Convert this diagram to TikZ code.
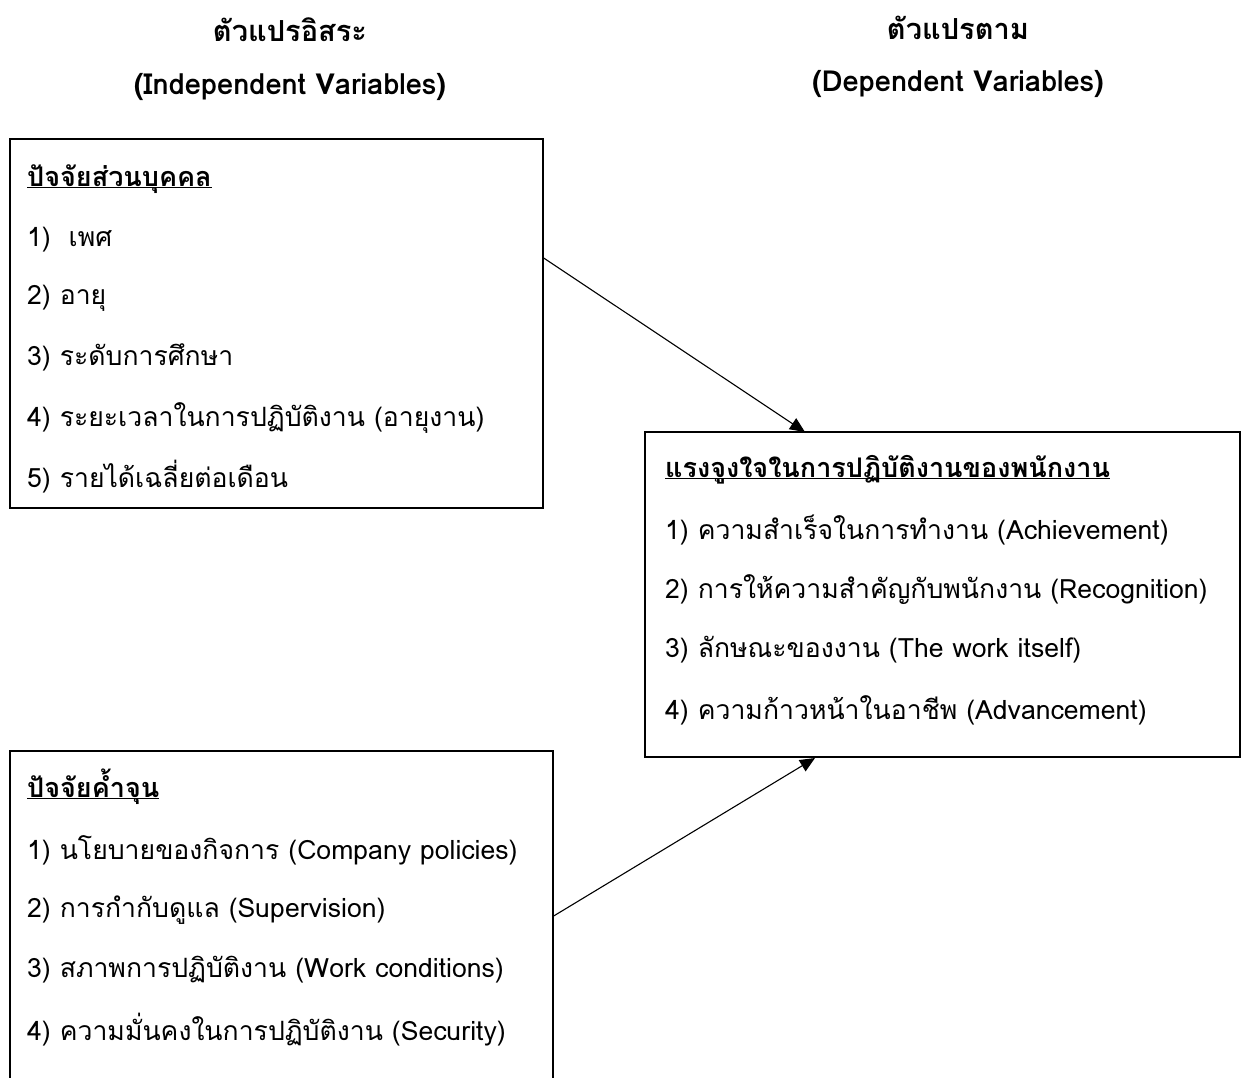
\documentclass[tikz,border=0pt]{standalone}
\usepackage{fontspec}
\setmainfont[Script=Thai]{Loma}
\usetikzlibrary{arrows.meta}
\newcommand\thul[1]{\underline{\smash{#1}}}
\begin{document}
\begin{tikzpicture}[x=1pt,y=-1pt,
  box/.style={draw=black, line width=1.3pt, rectangle, inner sep=0pt},
  txt/.style={anchor=west, inner sep=0pt, font=\fontsize{26.6}{30}\selectfont},
  ttl/.style={txt, font=\fontsize{27}{30}\selectfont\bfseries},
  hdr/.style={anchor=center, inner sep=0pt, font=\fontsize{29}{32}\selectfont\bfseries},
  arr/.style={line width=1.1pt, -{Triangle[length=15pt,width=13pt]}}]
\useasboundingbox (0,0) rectangle (1243,1077);
\clip (0,0) rectangle (1243,1077);
\fill[white] (0,0) rectangle (1243,1077);
% headers
\node[hdr] (h1) at (290,30) {ตัวแปรอิสระ};
\node[hdr] (h2) at (290,87) {(Independent Variables)};
\node[hdr] (h3) at (958,28) {ตัวแปรตาม};
\node[hdr] (h4) at (958,84) {(Dependent Variables)};
% boxes
\node[box, minimum width=533pt, minimum height=369pt] (b1) at (276.5,323.5) {};
\node[box, minimum width=595pt, minimum height=325pt] (b2) at (942.5,594.5) {};
\node[box, minimum width=543pt, minimum height=350pt] (b3) at (281.5,926) {};
% box 1 text
\node[ttl] (t1) at (27,187) {\thul{ปัจจัยส่วนบุคคล}};
\node[txt] (t1a) at (27,240) {1)\ \ เพศ};
\node[txt] (t1b) at (27,298) {2) อายุ};
\node[txt] (t1c) at (27,357) {3) ระดับการศึกษา};
\node[txt] (t1d) at (27,418) {4) ระยะเวลาในการปฏิบัติงาน (อายุงาน)};
\node[txt] (t1e) at (27,477) {5) รายได้เฉลี่ยต่อเดือน};
% box 2 text
\node[ttl] (t2) at (665,478) {\thul{แรงจูงใจในการปฏิบัติงานของพนักงาน}};
\node[txt] (t2a) at (665,530) {1) ความสำเร็จในการทำงาน (Achievement)};
\node[txt] (t2b) at (665,590) {2) การให้ความสำคัญกับพนักงาน (Recognition)};
\node[txt] (t2c) at (665,650) {3) ลักษณะของงาน (The work itself)};
\node[txt] (t2d) at (665,710) {4) ความก้าวหน้าในอาชีพ (Advancement)};
% box 3 text
\node[ttl] (t3) at (27,798) {\thul{ปัจจัยค้ำจุน}};
\node[txt] (t3a) at (27,850) {1) นโยบายของกิจการ (Company policies)};
\node[txt] (t3b) at (27,910) {2) การกำกับดูแล (Supervision)};
\node[txt] (t3c) at (27,970) {3) สภาพการปฏิบัติงาน (Work conditions)};
\node[txt] (t3d) at (27,1030) {4) ความมั่นคงในการปฏิบัติงาน (Security)};
% connectors
\coordinate (s1) at (b1.east |- 0,258);
\coordinate (e1) at (805,432);
\coordinate (s2) at (b3.east |- 0,916);
\coordinate (e2) at (815,758);
\draw[arr] (s1) -- (e1);
\draw[arr] (s2) -- (e2);
\end{tikzpicture}
\end{document}
